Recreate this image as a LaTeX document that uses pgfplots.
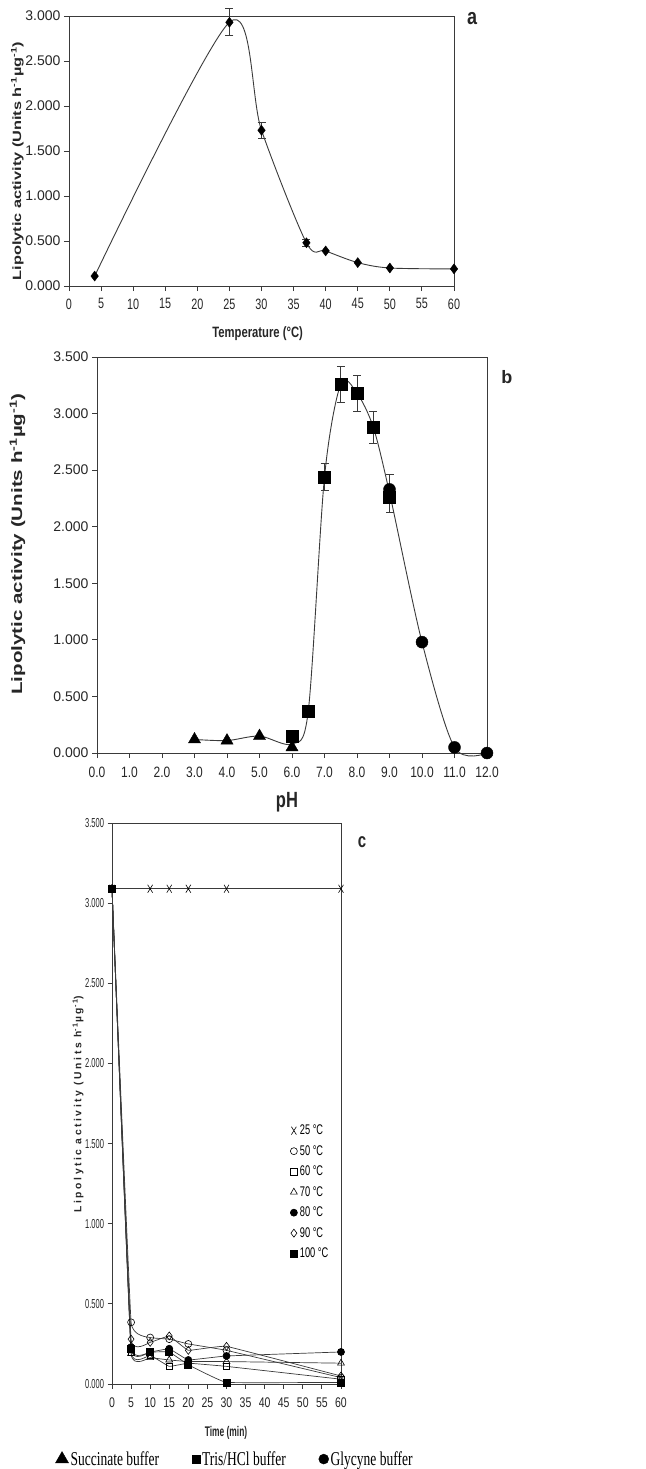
\documentclass[border=0pt]{standalone}
\usepackage{fontspec}
\setmainfont{Liberation Sans}
\newfontfamily\seriffont{Liberation Serif}
\newfontfamily\spacedfont{Liberation Sans}[LetterSpace=25]
\usepackage{graphicx}
\usepackage{pgfplots}
\pgfplotsset{compat=1.18}
\definecolor{ln}{HTML}{3A3A3A}
\definecolor{tx}{HTML}{262626}
\newcommand{\fs}[1]{\fontsize{#1}{#1}\selectfont}
\pgfplotsset{
  base/.style={scale only axis, anchor=south west, clip=false,
    axis line style={ln, line width=0.9pt},
    tick style={ln, line width=0.9pt},
    tick align=outside, xtick pos=bottom, ytick pos=left,
    major tick length=5pt,
    tick label style={text=tx},
    label style={text=tx},
  },
}
\begin{document}
\begin{tikzpicture}
\path[use as bounding box] (0,0) rectangle (645pt,-1469pt);

% ---------------- panel a
\begin{axis}[base, at={(69pt,-286pt)}, width=385pt, height=270pt,
  xmin=0, xmax=60, ymin=0, ymax=3,
  xtick={0,5,...,60}, ytick={0,0.5,...,3},
  yticklabel={\pgfmathprintnumber[fixed,fixed zerofill,precision=3,assume math mode=true]{\tick}},
  xticklabel={\scalebox{0.72}[1]{\pgfmathprintnumber[fixed,precision=0,assume math mode=true]{\tick}}},
  yticklabel style={font=\fs{14}},
  xticklabel style={font=\fs{15}, yshift=-4pt},
  xlabel={\scalebox{0.75}[1]{\bfseries Temperature (°C)}},
  xlabel style={at={(axis description cs:0.49,-0.178)}, anchor=center, font=\fs{15}},
  ylabel={\scalebox{1.36}[1]{\bfseries Lipolytic activity (Units h\textsuperscript{-1}µg\textsuperscript{-1})}},
  ylabel style={at={(axis description cs:-0.134,0.463)}, anchor=center, font=\fs{12}},
]
\addplot[ln, line width=0.9pt, smooth] coordinates {(4,0.11)(25,2.93)(30,1.73)(37,0.48)(40,0.39)(45,0.26)(50,0.20)(60,0.19)};
\addplot[only marks, mark=none, error bars/.cd, y dir=both, y explicit,
  error bar style={ln, line width=0.8pt}, error mark options={rotate=90, ln, line width=0.8pt, mark size=4pt}]
  coordinates {(25,2.93)+-(0,0.15) (30,1.73)+-(0,0.09) (37,0.48)+-(0,0.04)};
\addplot[only marks, mark=diamond*, mark size=5pt, black] coordinates {(4,0.11)(25,2.93)(30,1.73)(37,0.48)(40,0.39)(45,0.26)(50,0.20)(60,0.19)};
\node[font=\fs{18}\bfseries, text=tx] at (axis description cs:1.047,0.99) {\scalebox{1}[1.25]{a}};
\end{axis}

% ---------------- panel b
\begin{axis}[base, at={(97pt,-753pt)}, width=390pt, height=396pt,
  xmin=0, xmax=12, ymin=0, ymax=3.5,
  xtick={0,1,...,12}, ytick={0,0.5,...,3.5},
  yticklabel={\pgfmathprintnumber[fixed,fixed zerofill,precision=3,assume math mode=true]{\tick}},
  xticklabel={\scalebox{0.8}[1]{\pgfmathprintnumber[fixed,fixed zerofill,precision=1,assume math mode=true]{\tick}}},
  yticklabel style={font=\fs{14}},
  xticklabel style={font=\fs{15}, yshift=-5pt},
  xlabel={\scalebox{0.75}[1]{\bfseries pH}},
  xlabel style={at={(axis description cs:0.487,-0.124)}, anchor=center, font=\fs{22}},
  ylabel={\scalebox{1.37}[1]{\bfseries Lipolytic activity (Units h\textsuperscript{-1}µg\textsuperscript{-1})}},
  ylabel style={at={(axis description cs:-0.204,0.528)}, anchor=center, font=\fs{15}},
  legend style={at={(0.354,-1.783)}, anchor=center, draw=none, fill=none, font=\seriffont\fs{13.5},
    legend columns=3, /tikz/every even column/.append style={column sep=31pt}},
]
\addplot[ln, line width=0.9pt, smooth, forget plot] coordinates {(3,0.12)(4,0.11)(5,0.15)(6,0.08)(6.5,0.37)(7,2.44)(7.5,3.26)(8,3.18)(8.5,2.88)(9,2.30)(10,0.98)(11,0.05)(12,0.0)};
\addplot[only marks, mark=none, forget plot, error bars/.cd, y dir=both, y explicit,
  error bar style={ln, line width=0.8pt}, error mark options={rotate=90, ln, line width=0.8pt, mark size=4pt}]
  coordinates {(7,2.44)+-(0,0.12) (7.5,3.26)+-(0,0.16) (8,3.18)+-(0,0.16) (8.5,2.88)+-(0,0.14) (9,2.26)+=(0,0.2)-=(0,0.13)};
\addplot[only marks, mark=triangle*, mark size=7pt, black, forget plot] coordinates {(3,0.12)(4,0.11)(5,0.15)(6,0.05)};
\addplot[only marks, mark=square*, mark size=6pt, black, forget plot] coordinates {(6,0.15)(6.5,0.37)(7,2.44)(7.5,3.26)(8,3.18)(8.5,2.88)(9,2.26)};
\addplot[only marks, mark=*, mark size=6pt, black, forget plot] coordinates {(9,2.33)(10,0.98)(11,0.05)(12,0.0)};
\addlegendimage{only marks, mark=triangle*, mark size=7.5pt, black}
\addlegendentry{\scalebox{1}[1.45]{Succinate buffer}}
\addlegendimage{only marks, mark=square*, mark size=4pt, black}
\addlegendentry{\scalebox{1}[1.45]{Tris/HCl buffer}}
\addlegendimage{only marks, mark=*, mark size=5pt, black}
\addlegendentry{\scalebox{1}[1.45]{Glycyne buffer}}
\node[font=\fs{18}\bfseries, text=tx] at (axis description cs:1.051,0.949) {b};
\end{axis}

% ---------------- panel c
\begin{axis}[base, at={(112pt,-1384pt)}, width=229pt, height=561pt,
  xmin=0, xmax=60, ymin=0, ymax=3.5,
  major tick length=4.5pt,
  xtick={0,5,...,60}, ytick={0,0.5,...,3.5},
  yticklabel={\scalebox{0.58}[1]{\pgfmathprintnumber[fixed,fixed zerofill,precision=3,assume math mode=true]{\tick}}},
  xticklabel={\scalebox{0.75}[1]{\pgfmathprintnumber[fixed,precision=0,assume math mode=true]{\tick}}},
  yticklabel style={font=\fs{13}},
  xticklabel style={font=\fs{14}, yshift=-6pt},
  xlabel={\scalebox{0.6}[1]{\bfseries Time (min)}},
  xlabel style={at={(axis description cs:0.498,-0.0866)}, anchor=center, font=\fs{14}},
  ylabel={\spacedfont\bfseries Lipolytic activity (Units h\textsuperscript{-1}µg\textsuperscript{-1})},
  ylabel style={at={(axis description cs:-0.148,0.499)}, anchor=center, font=\fs{10.3}},
  legend image code/.code={\draw[#1] plot[only marks] coordinates {(0.1cm,0cm)};},
  legend style={at={(0.765,0.468)}, anchor=north west, draw=none, fill=none, font=\fs{14},
    row sep=6.5pt, nodes={inner sep=1pt, text height=10pt, text depth=2pt}},
  legend cell align=left,
]
\addplot[ln, line width=0.7pt, mark=x, mark size=3.5pt, mark options={black, yscale=1.6, line width=0.6pt}] coordinates {(0,3.09)(10,3.09)(15,3.09)(20,3.09)(30,3.09)(60,3.09)};
\addlegendentry{\scalebox{0.66}[1]{\,25 °C}}
\addplot[ln, line width=0.7pt, smooth, tension=0.12, mark=o, mark size=3.5pt, mark options={solid, fill=white, draw=black, line width=0.6pt}] coordinates {(0,3.09)(5,0.385)(10,0.29)(15,0.28)(20,0.25)(30,0.21)(60,0.04)};
\addlegendentry{\scalebox{0.66}[1]{\,50 °C}}
\addplot[ln, line width=0.7pt, smooth, tension=0.12, mark=square, mark size=3.2pt, mark options={solid, fill=white, draw=black, line width=0.6pt}] coordinates {(0,3.09)(5,0.20)(10,0.18)(15,0.11)(20,0.13)(30,0.11)(60,0.03)};
\addlegendentry{\scalebox{0.66}[1]{\,60 °C}}
\addplot[ln, line width=0.7pt, smooth, tension=0.12, mark=triangle, mark size=4pt, mark options={solid, fill=white, draw=black, line width=0.6pt}] coordinates {(0,3.09)(5,0.19)(10,0.165)(15,0.15)(20,0.14)(30,0.14)(60,0.13)};
\addlegendentry{\scalebox{0.66}[1]{\,70 °C}}
\addplot[ln, line width=0.7pt, smooth, tension=0.12, mark=*, mark size=3.5pt, mark options={solid, fill=black, draw=black}] coordinates {(0,3.09)(5,0.23)(10,0.20)(15,0.22)(20,0.15)(30,0.175)(60,0.20)};
\addlegendentry{\scalebox{0.66}[1]{\,80 °C}}
\addplot[ln, line width=0.7pt, smooth, tension=0.12, mark=diamond, mark size=4pt, mark options={solid, fill=white, draw=black, line width=0.6pt}] coordinates {(0,3.09)(5,0.28)(10,0.26)(15,0.30)(20,0.21)(30,0.235)(60,0.05)};
\addlegendentry{\scalebox{0.66}[1]{\,90 °C}}
\addplot[ln, line width=0.7pt, smooth, tension=0.12, mark=square*, mark size=3.5pt, mark options={solid, fill=black, draw=black}] coordinates {(0,3.09)(5,0.22)(10,0.20)(15,0.20)(20,0.12)(30,0.01)(60,0.01)};
\addlegendentry{\scalebox{0.66}[1]{\,100 °C}}
\node[font=\fs{15}\bfseries, text=tx] at (axis description cs:1.092,0.966) {\scalebox{1}[1.35]{c}};
\end{axis}
\end{tikzpicture}
\end{document}
